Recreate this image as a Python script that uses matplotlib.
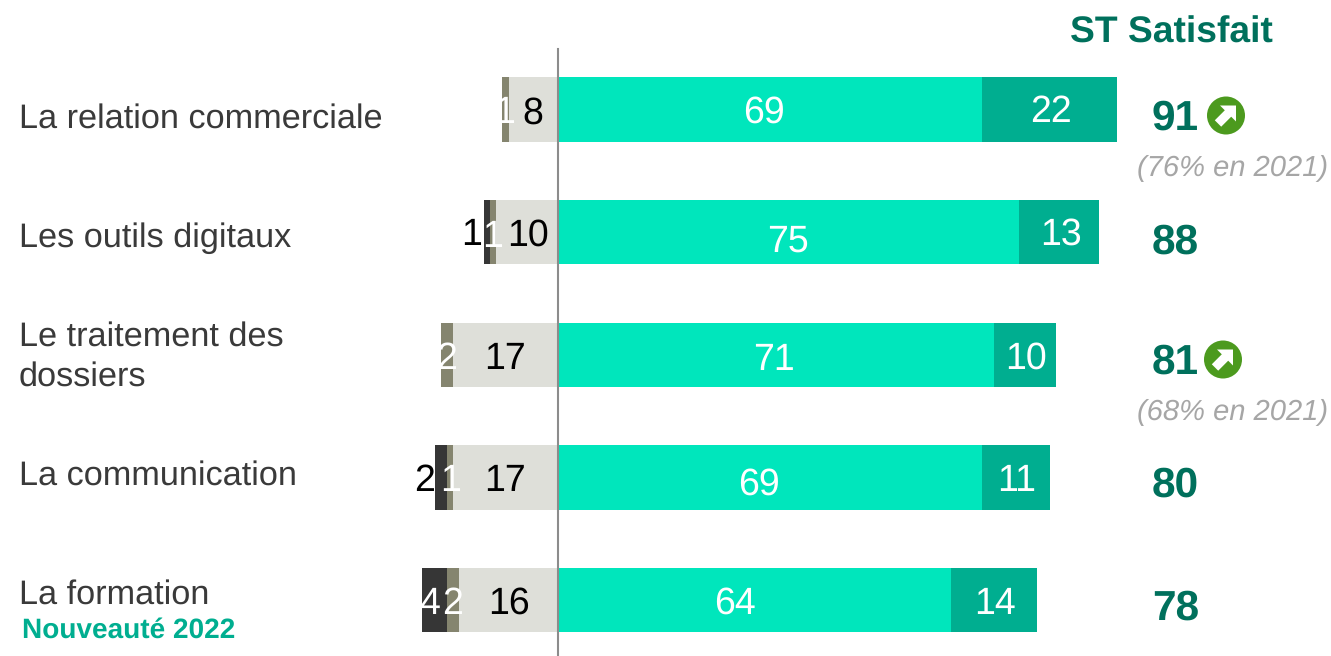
import numpy as np
import matplotlib
matplotlib.use( "Agg" )
import matplotlib.pyplot as plt
from matplotlib.patches import Circle, Polygon

plt.rcParams["font.family"]  = [ "Liberation Sans", "DejaVu Sans" ]
plt.rcParams["text.hinting"] = "no_hinting"

# ========================================================= #
# ===  data                                             === #
# ========================================================= #
categories = [ "La relation commerciale", "Les outils digitaux", "Le traitement des\ndossiers", \
               "La communication", "La formation" ]
tres_sat   = np.array( [ 22, 13, 10, 11, 14 ] )
plutot_sat = np.array( [ 69, 75, 71, 69, 64 ] )
plutot_pas = np.array( [  8, 10, 17, 17, 16 ] )
pas_sat    = np.array( [  1,  1,  2,  1,  2 ] )
pas_du_tout= np.array( [  0,  1,  0,  2,  4 ] )
totals     = [ 91, 88, 81, 80, 78 ]
history    = [ "(76% en 2021)", None, "(68% en 2021)", None, None ]

# --- label offsets in pixels ( dx, dy ) --- #
off_plutot = [ (-6,-1), ( 0, 6), (-2, 1), (-11, 3), (-20, 0) ]
off_tres   = [ ( 1,-1), ( 2,-1), ( 1, 0), ( 1, 0), ( 1, 0) ]
off_light  = [ ( 0, 0), ( 1, 0), ( 0, 0), ( 0, 0), ( 0, 0) ]
off_khaki  = [ (-1, 0), (-1, 1), ( 0, 0), ( 0, 0), (-1, 0) ]
off_dark   = [ ( 0, 0), (-15,-1), ( 0, 0), (-16, 0), (-5, 0) ]
col_dark   = [ "black", "black", "black", "black", "white" ]

# ========================================================= #
# ===  figure                                           === #
# ========================================================= #
width, height = 1331, 656
x0, px_unit   = 557.7, 6.15
y0, px_row    = 109.6, 122.65
bar_h         = 64.3 / px_row

fig = plt.figure( figsize=(width/100,height/100), dpi=100 )
ax1 = fig.add_axes( [ 0.0, 0.0, 1.0, 1.0 ] )
ax1.set_xlim( [ -x0/px_unit, (width-x0)/px_unit ] )
ax1.set_ylim( [ (height-y0)/px_row, -y0/px_row ] )
ax1.axis( "off" )

# overlay in pixel units for the text and icons
ax2 = fig.add_axes( [ 0.0, 0.0, 1.0, 1.0 ], facecolor="none" )
ax2.set_xlim( [ 0, width ] )
ax2.set_ylim( [ height, 0 ] )
ax2.axis( "off" )

# ------------------------------------------------- #
# --- [1] stacked bars                          --- #
# ------------------------------------------------- #
ypos = np.arange( len(categories) )
ax1.barh( ypos, plutot_sat, bar_h, color="#00E6BC" )
ax1.barh( ypos, tres_sat, bar_h, left=plutot_sat, color="#00AE90" )
ax1.barh( ypos, -plutot_pas, bar_h, color="#DEDFD9" )
ax1.barh( ypos, -pas_sat, bar_h, left=-plutot_pas, color="#85856F" )
ax1.barh( ypos, -pas_du_tout, bar_h, left=-(plutot_pas+pas_sat), color="#363636" )
ax1.plot( [ 0, 0 ], [ (49-y0)/px_row, (height-y0)/px_row ], color="#8C8C8C", lw=1.5 )

# ------------------------------------------------- #
# --- [2] value labels                          --- #
# ------------------------------------------------- #
def put__label( xval, row, txt, off, color ):
    xp = x0 + xval*px_unit + off[0]
    yp = y0 + row *px_row  + off[1]
    ax2.text( xp, yp, txt, color=color, fontsize=27, ha="center", va="center_baseline" )

for ik in range( len(categories) ):
    put__label( plutot_sat[ik]*0.5, ik, str(plutot_sat[ik]), off_plutot[ik], "white" )
    put__label( plutot_sat[ik]+tres_sat[ik]*0.5, ik, str(tres_sat[ik]), off_tres[ik], "white" )
    put__label( -plutot_pas[ik]*0.5, ik, str(plutot_pas[ik]), off_light[ik], "black" )
    put__label( -plutot_pas[ik]-pas_sat[ik]*0.5, ik, str(pas_sat[ik]), off_khaki[ik], "white" )
    if ( pas_du_tout[ik] > 0 ):
        put__label( -plutot_pas[ik]-pas_sat[ik]-pas_du_tout[ik]*0.5, ik, \
                    str(pas_du_tout[ik]), off_dark[ik], col_dark[ik] )

# ------------------------------------------------- #
# --- [3] category labels                       --- #
# ------------------------------------------------- #
cat_y = [ 119, 238, 357, 476, 595 ]
for ik,name in enumerate( categories ):
    ax2.text( 19, cat_y[ik], name, color="#3A3A3A", fontsize=24.7, ha="left", va="center", linespacing=1.33 )
ax2.text( 22, 630, "Nouveauté 2022", color="#00AE90", fontsize=20.2, fontweight="bold", ha="left", va="center" )

# ------------------------------------------------- #
# --- [4] totals column                         --- #
# ------------------------------------------------- #
ax2.text( 1171, 33, "ST Satisfait", color="#00705C", fontsize=26.8, fontweight="bold", ha="center", va="center" )

total_y = [ 119, 243, 363, 486, 609 ]
for ik,total in enumerate( totals ):
    ax2.text( 1175.5, total_y[ik], str(total), color="#00705C", fontsize=30.5, fontweight="bold", \
              ha="center", va="center" )
    if ( history[ik] is not None ):
        ax2.text( 1233, total_y[ik]+49, history[ik], color="#A6A6A6", fontsize=21, style="italic", \
                  ha="center", va="center" )

def draw__arrow( xc, yc, radius=19 ):
    ax2.add_patch( Circle( (xc,yc), radius, color="#4C9A1E", lw=0 ) )
    # white diagonal arrow, head corner at the upper right
    shape = np.array( [ [ 10.0,-10.0], [ 10.0, 6.0], [ 5.2, 1.2], [-4.8,11.2], [-11.2, 4.8], \
                        [ -1.2, -5.2], [ -6.0,-10.0] ] )
    ax2.add_patch( Polygon( shape+np.array([xc,yc]), closed=True, color="white", lw=0 ) )

draw__arrow( 1226, 115.5 )
draw__arrow( 1223, 359.5 )

fig.savefig( "out.png", dpi=100 )
